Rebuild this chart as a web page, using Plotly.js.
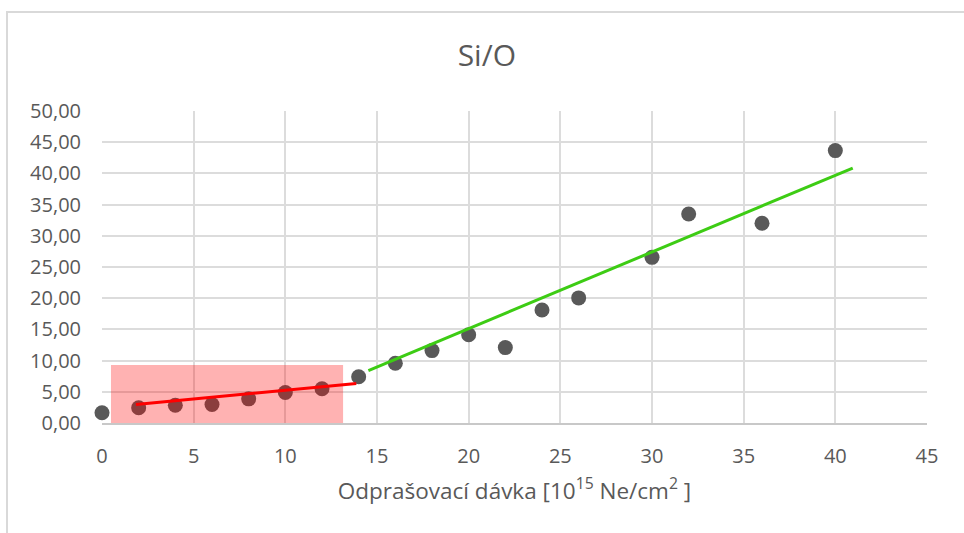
<!DOCTYPE html>
<html>
<head>
<meta charset="utf-8">
<script src="https://cdn.plot.ly/plotly-3.0.1.min.js"></script>
<style>
  html, body { margin: 0; padding: 0; background: #ffffff; }
  #wrap { position: relative; width: 964px; height: 533px; overflow: hidden; }
  #frame { position: absolute; left: 6px; top: 11px; width: 1000px; height: 600px;
           border-left: 2px solid #D9D9D9; border-top: 2px solid #D9D9D9; pointer-events: none; }
  #chart { position: absolute; left: 0; top: 0; width: 964px; height: 533px; }
</style>
</head>
<body>
<div id="wrap">
  <div id="frame"></div>
  <div id="chart"></div>
</div>
<script>
// Measured data: sputtering dose vs Si/O ratio
const dose = [0, 2, 4, 6, 8, 10, 12, 14, 16, 18, 20, 22, 24, 26, 30, 32, 36, 40];
const ratio = [1.65, 2.45, 2.85, 2.97, 3.87, 4.89, 5.48, 7.4, 9.57, 11.6, 14.15, 12.08, 18.1, 20.05, 26.55, 33.5, 32.0, 43.65];

// Red trend line (low-dose region), endpoints
const redLineX = [1.85, 13.87];
const redLineY = [2.96, 6.34];

// Green trend line (high-dose region), endpoints
const greenLineX = [14.53, 40.95];
const greenLineY = [8.4, 40.86];

// Highlighted region (red box)
const boxX = [0.49, 13.15, 13.15, 0.49, 0.49];
const boxY = [0, 0, 9.3, 9.3, 0];

// Tick values
const xTicks = [0, 5, 10, 15, 20, 25, 30, 35, 40, 45];
const yTicks = [0, 5, 10, 15, 20, 25, 30, 35, 40, 45, 50];

const FONT = '"Open Sans", "Noto Sans", sans-serif';
const TXT = '#595959';

const traces = [
  {
    x: dose, y: ratio, type: 'scatter', mode: 'markers',
    marker: { color: '#595959', size: 15 },
    cliponaxis: false, hoverinfo: 'x+y', showlegend: false
  },
  {
    x: boxX, y: boxY, type: 'scatter', mode: 'lines',
    fill: 'toself', fillcolor: 'rgba(255,0,0,0.3)',
    line: { width: 0, color: 'rgba(0,0,0,0)' },
    hoverinfo: 'skip', showlegend: false
  },
  {
    x: redLineX, y: redLineY, type: 'scatter', mode: 'lines',
    line: { color: '#FF0000', width: 3 }, showlegend: false
  },
  {
    x: greenLineX, y: greenLineY, type: 'scatter', mode: 'lines',
    line: { color: '#3DCC14', width: 3 }, showlegend: false
  }
];

const layout = {
  width: 964, height: 533,
  margin: { l: 102, r: 37, t: 111, b: 110 },
  paper_bgcolor: 'rgba(0,0,0,0)',
  plot_bgcolor: 'rgba(0,0,0,0)',
  separators: ', ',
  font: { family: FONT, color: TXT, size: 20 },
  showlegend: false,
  title: {
    text: 'Si/O',
    font: { family: FONT, size: 30, color: TXT },
    xref: 'container', x: 0.505, xanchor: 'center',
    yref: 'container', y: 0.895, yanchor: 'middle'
  },
  xaxis: {
    range: [0, 45], tickvals: xTicks, ticktext: xTicks.map(String),
    showgrid: true, gridcolor: '#DCDCDC', gridwidth: 2,
    zeroline: false, showline: true, linecolor: '#C8C8C8', linewidth: 2,
    ticks: '', ticklabelstandoff: 14,
    tickfont: { family: FONT, size: 20, color: TXT },
    title: {
      text: 'Odprašovací dávka [10<sup>15</sup> Ne/cm<sup>2</sup> ]',
      font: { family: FONT, size: 22.5, color: TXT },
      standoff: 15
    },
    fixedrange: true
  },
  yaxis: {
    range: [0, 50], tickvals: yTicks,
    tickformat: '.2f',
    showgrid: true, gridcolor: '#DCDCDC', gridwidth: 2,
    zeroline: false, showline: false,
    ticks: '', ticklabelstandoff: 20,
    tickfont: { family: FONT, size: 20, color: TXT },
    fixedrange: true
  }
};

Plotly.newPlot('chart', traces, layout, { displayModeBar: false, staticPlot: true });
</script>
</body>
</html>
